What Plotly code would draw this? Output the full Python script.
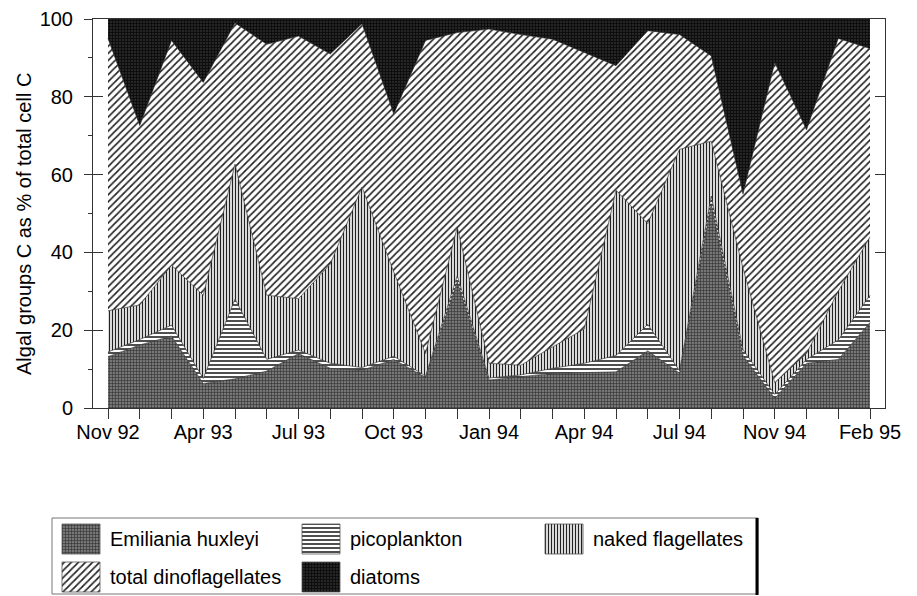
import plotly.graph_objects as go

W, H = 917, 596

# sample index (x axis is sample sequence, not calendar time)
samples = list(range(25))
tick_labels = ["Nov 92", "", "", "Apr 93", "", "", "Jul 93", "", "", "Oct 93", "", "",
               "Jan 94", "", "", "Apr 94", "", "", "Jul 94", "", "", "Nov 94", "", "", "Feb 95"]

# % of total cell C per group (stacked bottom -> top)
emiliania = [13.2, 16.2, 18.5, 6.3, 7.5, 9.5, 14.0, 10.2, 9.7, 12.5, 7.9, 32.5, 7.2,
             8.0, 8.9, 9.1, 9.3, 14.7, 9.0, 52.5, 13.5, 2.5, 11.5, 12.5, 22.0]
picoplankton = [1.2, 1.4, 2.8, 1.3, 20.5, 3.0, 0.9, 1.3, 0.7, 0.8, 0.3, 1.5, 0.5,
                0.5, 1.3, 2.4, 4.2, 6.8, 0.6, 2.0, 1.5, 1.0, 1.0, 5.0, 7.0]
naked = [10.6, 8.9, 15.4, 21.4, 34.7, 16.5, 13.2, 25.5, 46.4, 21.7, 5.8, 12.5, 3.8,
         2.5, 5.5, 8.8, 42.5, 25.9, 56.9, 14.1, 21.0, 3.0, 1.5, 12.5, 15.0]
dinoflagellates = [70.0, 46.1, 57.8, 54.7, 36.3, 64.5, 67.5, 54.0, 42.0, 40.6, 80.5, 50.0, 85.9,
                   85.0, 79.1, 71.1, 32.0, 49.6, 29.5, 21.9, 19.0, 82.3, 57.5, 65.0, 48.4]
diatoms = [5.0, 27.4, 5.5, 16.3, 1.0, 6.5, 4.4, 9.0, 1.2, 24.4, 5.5, 3.5, 2.6,
           4.0, 5.2, 8.6, 12.0, 3.0, 4.0, 9.5, 45.0, 11.2, 28.5, 5.0, 7.6]

series_names = ["Emiliania huxleyi", "picoplankton", "naked flagellates",
                "total dinoflagellates", "diatoms"]
series_values = [emiliania, picoplankton, naked, dinoflagellates, diatoms]

FONT = "Liberation Sans, Arial, Helvetica, sans-serif"

patterns = [
    dict(shape="+", size=3, solidity=0.35, fgcolor="#303030", bgcolor="#767676", fillmode="replace"),
    dict(shape="-", size=4, solidity=0.4, fgcolor="#222222", bgcolor="#ffffff", fillmode="replace"),
    dict(shape="|", size=3, solidity=0.45, fgcolor="#222222", bgcolor="#ffffff", fillmode="replace"),
    dict(shape="/", size=5, solidity=0.33, fgcolor="#222222", bgcolor="#ffffff", fillmode="replace"),
    dict(shape="+", size=3, solidity=0.5, fgcolor="#0c0c0c", bgcolor="#262626", fillmode="replace"),
]

fig = go.Figure()

for name, vals, pat in zip(series_names, series_values, patterns):
    fig.add_trace(go.Scatter(
        x=samples, y=vals, name=name, mode="lines", stackgroup="one",
        line=dict(color="#222222", width=0.6),
        fillpattern=pat, showlegend=False, hoverinfo="skip",
        xaxis="x", yaxis="y",
    ))

# hand-drawn legend box in its own pixel-unit axes
leg_cols = [62, 302, 545]
leg_rows = [(524, 554), (562, 592)]
sw_w = 38
slots = [(0, 0), (0, 1), (0, 2), (1, 0), (1, 1)]
for (r, c), name, pat in zip(slots, series_names, patterns):
    x0 = leg_cols[c]
    x1 = x0 + sw_w
    y0, y1 = leg_rows[r]
    fig.add_trace(go.Scatter(
        x=[x0, x1, x1, x0, x0], y=[y0, y0, y1, y1, y0], mode="lines", fill="toself",
        fillpattern=pat, line=dict(color="#555555", width=0.8),
        showlegend=False, hoverinfo="skip", xaxis="x2", yaxis="y2",
    ))
    fig.add_annotation(x=x1 + 8, y=(y0 + y1) / 2, xref="x2", yref="y2", text=name,
                       showarrow=False, xanchor="left", yanchor="middle",
                       font=dict(family=FONT, size=20, color="black"))

fig.update_layout(
    width=W, height=H, margin=dict(l=0, r=0, t=0, b=0, autoexpand=False),
    paper_bgcolor="white", plot_bgcolor="white", showlegend=False,
    font=dict(family=FONT, size=20, color="black"),
    xaxis=dict(domain=[93 / W, 885 / W], range=[-15 / 31.75, 24 + 15 / 31.75],
               tickmode="array", tickvals=samples, ticktext=tick_labels,
               ticks="outside", ticklen=10, tickcolor="#333", tickwidth=1,
               showline=True, linecolor="#333", linewidth=1, mirror=True,
               showgrid=False, zeroline=False, tickfont=dict(size=20), anchor="y",
               automargin=False, ticklabelstandoff=-4),
    yaxis=dict(domain=[1 - 408 / H, 1 - 19 / H], range=[0, 100],
               tickmode="array", tickvals=[0, 20, 40, 60, 80, 100],
               ticks="outside", ticklen=8, tickcolor="#333", tickwidth=1,
               minor=dict(dtick=10, ticks="outside", ticklen=4, tickcolor="#333"),
               showline=True, linecolor="#333", linewidth=1, mirror=True,
               showgrid=False, zeroline=False, tickfont=dict(size=20), anchor="x",
               automargin=False, ticklabelstandoff=7),
    yaxis3=dict(overlaying="y", range=[0, 100], tickmode="array",
                tickvals=[0, 20, 40, 60, 80, 100], ticks="inside", ticklen=10,
                tickcolor="#333", showticklabels=False, showline=False,
                mirror="ticks", showgrid=False, zeroline=False, anchor="x",
                automargin=False),
    xaxis2=dict(domain=[52 / W, 758 / W], range=[52, 758], visible=False, anchor="y2"),
    yaxis2=dict(domain=[1 - 594 / H, 1 - 518 / H], range=[594, 518], visible=False, anchor="x2"),
    hovermode=False,
)

# dummy trace to activate the inside-tick overlay axis
fig.add_trace(go.Scatter(x=[None], y=[None], xaxis="x", yaxis="y3", showlegend=False))

fig.add_annotation(x=24 / W, y=1 - 224 / H, xref="paper", yref="paper",
                   xanchor="center", yanchor="middle",
                   text="Algal groups C as % of total cell C", textangle=-90,
                   showarrow=False, font=dict(family=FONT, size=20, color="black"))

# legend frame
fig.add_shape(type="rect", xref="paper", yref="paper", x0=52 / W, x1=758 / W,
              y0=1 - 594 / H, y1=1 - 518 / H, line=dict(color="#777777", width=1))
fig.add_shape(type="line", xref="paper", yref="paper", x0=757 / W, x1=757 / W,
              y0=1 - 595 / H, y1=1 - 518 / H, line=dict(color="black", width=3))

fig.write_html("out.html")
